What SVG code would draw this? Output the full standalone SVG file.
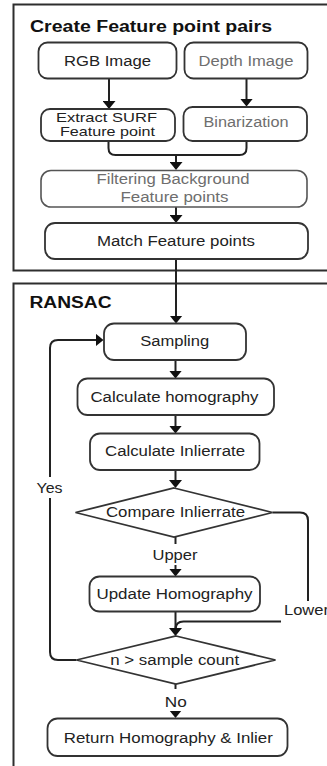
<svg xmlns="http://www.w3.org/2000/svg" width="327" height="766" viewBox="0 0 327 766">
<defs>
<style>
.frame{fill:none;stroke:#2e2e2e;stroke-width:2}
.box{fill:#fff;stroke:#333;stroke-width:1.8}
.gbox{fill:#fff;stroke:#555;stroke-width:1.6}
.t{font-family:"Liberation Sans",Arial,sans-serif;font-size:14px;fill:#222}
.s{font-size:13px}
.g{fill:#6e6e6e}
.b{font-weight:bold;font-size:16px;fill:#111}
.m{text-anchor:middle}
.c{fill:none;stroke:#222;stroke-width:2}
.lbl{fill:#fff;stroke:none}
</style>
<marker id="ah" viewBox="0 0 8 13" refX="4" refY="6.5" markerWidth="8" markerHeight="13" markerUnits="userSpaceOnUse" orient="auto">
<path d="M0,0 L8,6.5 L0,13 Z" fill="#111"/>
</marker>
</defs>
<rect width="327" height="766" fill="#fff"/>

<g id="frame-create">
<rect class="frame" x="13.5" y="4.5" width="340" height="266"/>
<text class="t b" x="30" y="32" textLength="242" lengthAdjust="spacingAndGlyphs">Create Feature point pairs</text>
</g>
<g id="frame-ransac">
<rect class="frame" x="13.5" y="283.5" width="340" height="520"/>
<text class="t b" x="29.5" y="308" textLength="82" lengthAdjust="spacingAndGlyphs">RANSAC</text>
</g>

<g id="connectors">
<path class="c" d="M109,78.5 V105" marker-end="url(#ah)"/>
<path class="c" d="M246.5,78.5 V102.5" marker-end="url(#ah)"/>
<path class="c" d="M108.5,141 V148 Q108.5,155 115.5,155 H239.5 Q246.5,155 246.5,148 V141"/>
<path class="c" d="M176,155 V166" marker-end="url(#ah)"/>
<path class="c" d="M176,207 V219" marker-end="url(#ah)"/>
<path class="c" d="M176,259 V319.5" marker-end="url(#ah)"/>
<path class="c" d="M175.5,360 V374.5" marker-end="url(#ah)"/>
<path class="c" d="M175.5,415 V429.5" marker-end="url(#ah)"/>
<path class="c" d="M175.5,470 V484" marker-end="url(#ah)"/>
<path class="c" d="M175.5,537 V572.5" marker-end="url(#ah)"/>
<path class="c" d="M272.5,512.5 H300 Q308,512.5 308,520.5 V613.5 Q308,621.5 300,621.5 H183.5 Q175.5,621.5 175.5,629.5 V632" />
<path class="c" d="M175.5,612 V632" marker-end="url(#ah)"/>
<path class="c" d="M76.5,660 H58 Q50,660 50,652 V348 Q50,340 58,340 H99.5" marker-end="url(#ah)"/>
<path class="c" d="M175.5,684 V714" marker-end="url(#ah)"/>
<rect class="lbl" x="150" y="544" width="50" height="21"/>
<text class="t m" x="175" y="560" textLength="45" lengthAdjust="spacingAndGlyphs">Upper</text>
<rect class="lbl" x="281" y="601" width="46" height="25"/>
<text class="t" x="284" y="615" textLength="45" lengthAdjust="spacingAndGlyphs">Lower</text>
<rect class="lbl" x="34" y="477" width="32" height="21"/>
<text class="t m" x="49.5" y="493" textLength="26" lengthAdjust="spacingAndGlyphs">Yes</text>
<rect class="lbl" x="162" y="689" width="27" height="22"/>
<text class="t m" x="175.8" y="706.5" textLength="22" lengthAdjust="spacingAndGlyphs">No</text>
</g>

<g id="rgb">
<rect class="box" x="38.5" y="42.5" width="138" height="36" rx="9"/>
<text class="t m" x="107.5" y="65.5" textLength="87" lengthAdjust="spacingAndGlyphs">RGB Image</text>
</g>
<g id="depth">
<rect class="box" x="184.5" y="42.5" width="123" height="36" rx="9"/>
<text class="t m g" x="246" y="65.5" textLength="95" lengthAdjust="spacingAndGlyphs">Depth Image</text>
</g>
<g id="extract">
<rect class="box" x="41" y="109" width="134" height="32" rx="9"/>
<text class="t s m" x="106.5" y="121.5" textLength="101" lengthAdjust="spacingAndGlyphs">Extract SURF</text>
<text class="t s m" x="107.5" y="136" textLength="95" lengthAdjust="spacingAndGlyphs">Feature point</text>
</g>
<g id="binarization">
<rect class="box" x="183.5" y="107" width="123.5" height="34" rx="9"/>
<text class="t m g" x="246" y="127" textLength="85" lengthAdjust="spacingAndGlyphs">Binarization</text>
</g>
<g id="filtering">
<rect class="gbox" x="41" y="170.5" width="266" height="36.5" rx="10"/>
<text class="t m g" x="173" y="184" textLength="153" lengthAdjust="spacingAndGlyphs">Filtering Background</text>
<text class="t m g" x="174.5" y="201.5" textLength="108" lengthAdjust="spacingAndGlyphs">Feature points</text>
</g>
<g id="match">
<rect class="box" x="45" y="223" width="263" height="36" rx="10"/>
<text class="t m" x="176" y="246" textLength="158" lengthAdjust="spacingAndGlyphs">Match Feature points</text>
</g>
<g id="sampling">
<rect class="box" x="104" y="323.5" width="142" height="36.5" rx="10"/>
<text class="t m" x="174.7" y="346" textLength="69" lengthAdjust="spacingAndGlyphs">Sampling</text>
</g>
<g id="calc-homography">
<rect class="box" x="77.5" y="378.5" width="196.5" height="36.5" rx="10"/>
<text class="t m" x="174.5" y="401.5" textLength="168" lengthAdjust="spacingAndGlyphs">Calculate homography</text>
</g>
<g id="calc-inlierrate">
<rect class="box" x="90" y="433.5" width="169.5" height="36.5" rx="10"/>
<text class="t m" x="175" y="456" textLength="140" lengthAdjust="spacingAndGlyphs">Calculate Inlierrate</text>
</g>
<g id="compare">
<polygon class="box" points="174,488 272.5,512.5 174,537 75.5,512.5"/>
<text class="t m" x="175.5" y="516.5" textLength="139" lengthAdjust="spacingAndGlyphs">Compare Inlierrate</text>
</g>
<g id="update">
<rect class="box" x="89.5" y="576.5" width="170.5" height="35" rx="10"/>
<text class="t m" x="174.5" y="598.5" textLength="156" lengthAdjust="spacingAndGlyphs">Update Homography</text>
</g>
<g id="sample-count">
<polygon class="box" points="176,636 275.5,660 176,684 76.5,660"/>
<text class="t m" x="174.7" y="665" textLength="129" lengthAdjust="spacingAndGlyphs">n &gt; sample count</text>
</g>
<g id="return">
<rect class="box" x="47.5" y="718.5" width="240" height="37.5" rx="10"/>
<text class="t m" x="168.3" y="742.5" textLength="209" lengthAdjust="spacingAndGlyphs">Return Homography &amp; Inlier</text>
</g>
</svg>
